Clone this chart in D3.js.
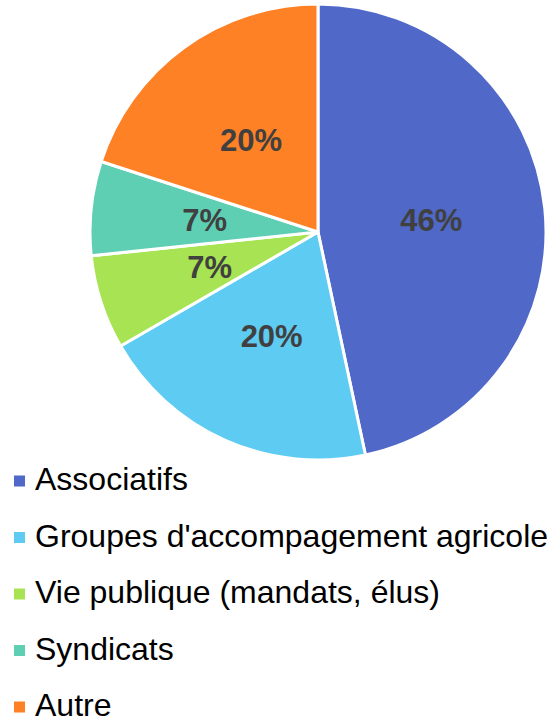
<!DOCTYPE html>
<html lang="fr">
<head>
<meta charset="UTF-8">
<title>Pie</title>
<style>
  body { margin: 0; background: #fff; }
  svg { display: block; font-family: "Liberation Sans", Arial, sans-serif; }
</style>
</head>
<body>
<svg id="chart" width="560" height="720"></svg>
<script src="https://cdnjs.cloudflare.com/ajax/libs/d3/7.8.5/d3.min.js"></script>
<script>
// categories, values (share of answers) and printed labels
const categories = ['Associatifs', "Groupes d'accompagement agricole", 'Vie publique (mandats, élus)', 'Syndicats', 'Autre'];
const values = [46.67, 20, 6.67, 6.67, 20];
const pctLabels = ['46%', '20%', '7%', '7%', '20%'];
const colors = ['#5068c8', '#5ecbf2', '#a7e352', '#5fcfb4', '#fe8126'];

const svg = d3.select('#chart');
const cx = 318, cy = 232, radius = 228;

const color = d3.scaleOrdinal().domain(categories).range(colors);

const pie = d3.pie().sort(null).value(d => d.value);
const arc = d3.arc().innerRadius(0).outerRadius(radius);

const data = categories.map((c, i) => ({ name: c, value: values[i], label: pctLabels[i] }));

const g = svg.append('g').attr('transform', 'translate(' + cx + ',' + cy + ')');

const slices = g.selectAll('g.slice')
  .data(pie(data))
  .enter()
  .append('g')
  .attr('class', 'slice');

slices.append('path')
  .attr('d', arc)
  .attr('fill', d => color(d.data.name))
  .attr('stroke', '#fff')
  .attr('stroke-width', 3);

slices.append('text')
  .attr('transform', d => 'translate(' + arc.centroid(d) + ')')
  .attr('text-anchor', 'middle')
  .attr('dy', '0.35em')
  .attr('font-size', 31)
  .attr('font-weight', 'bold')
  .attr('fill', '#404040')
  .text(d => d.data.label);

// legend below the pie
const LEG_X = 14, LEG_Y = 490, LEG_STEP = 56.5, LEG_BOX = 11;

const legend = svg.append('g')
  .selectAll('g')
  .data(categories)
  .enter()
  .append('g')
  .attr('transform', (d, i) => 'translate(' + LEG_X + ',' + (LEG_Y + i * LEG_STEP) + ')');

legend.append('rect')
  .attr('x', 0)
  .attr('y', -9 - LEG_BOX / 2)
  .attr('width', LEG_BOX)
  .attr('height', LEG_BOX)
  .attr('fill', d => color(d));

legend.append('text')
  .attr('x', 21)
  .attr('y', 0)
  .attr('font-size', 32)
  .attr('fill', '#000')
  .text(d => d);
</script>
</body>
</html>
